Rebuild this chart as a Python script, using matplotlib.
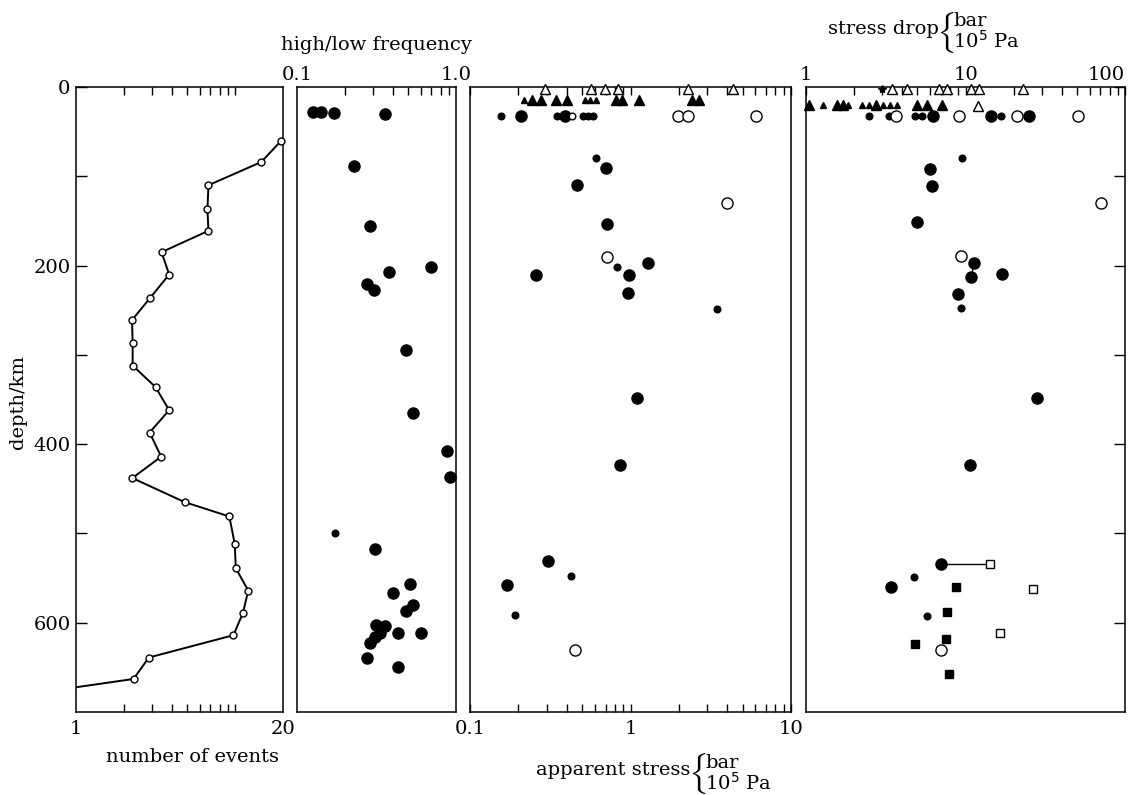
import matplotlib
matplotlib.use("Agg")
import matplotlib.pyplot as plt
from matplotlib.ticker import FixedLocator, NullFormatter, FixedFormatter
import numpy as np

# ---------------- data ----------------
# panel 1: number of events vs depth
events_depth = [61, 84, 110, 137, 161, 185, 210, 236, 261, 287, 312, 336, 362, 387,
                414, 438, 465, 481, 512, 539, 564, 589, 614, 639, 663, 680]
events_count = [19.3, 14.6, 6.8, 6.7, 6.8, 3.45, 3.85, 2.93, 2.25, 2.27, 2.27, 3.16,
                3.85, 2.90, 3.43, 2.26, 4.83, 9.2, 9.95, 10.1, 12.1, 11.2, 9.76, 2.87,
                2.30, 0.5]

# panel 2: high/low frequency ratio
hl_big_val = [0.126, 0.142, 0.171, 0.359, 0.229, 0.289, 0.379, 0.693, 0.276, 0.306,
              0.485, 0.534, 0.882, 0.921, 0.309, 0.516, 0.402, 0.534, 0.487, 0.316,
              0.359, 0.334, 0.311, 0.289, 0.430, 0.603, 0.274, 0.430]
hl_big_depth = [28.5, 28.5, 29, 30, 89, 156, 207.5, 202, 221, 227, 294, 365.5, 408,
                437, 517, 557, 567, 580, 586.5, 602, 603.4, 611.6, 616.5, 623, 611.6,
                611, 639, 650]
hl_small_val = [0.173]
hl_small_depth = [499]

# panel 3: apparent stress (bar)
as_otri_val = [0.293, 0.565, 0.697, 0.840, 2.27, 4.33]
as_otri_depth = [2, 2, 2, 2, 2, 2]
as_tri_big_val = [0.242, 0.276, 0.344, 0.405, 0.809, 0.891, 1.136, 2.405, 2.68]
as_tri_big_depth = [14] * 9
as_tri_small_val = [0.217, 0.521, 0.560, 0.607]
as_tri_small_depth = [14] * 4
as_big_val = [0.207, 0.391, 0.700, 0.462, 0.710, 1.29, 0.259, 0.984, 0.970, 1.104,
              0.86, 0.307, 0.171]
as_big_depth = [33, 33, 90.6, 109.4, 153.9, 196.6, 210.9, 210.9, 230.3, 347.9,
                423, 531, 557.7]
as_small_val = [0.157, 0.350, 0.504, 0.541, 0.587, 0.607, 0.820, 3.47, 0.426, 0.192]
as_small_depth = [33, 33, 33, 33, 33, 79.4, 201.5, 248.7, 547.6, 591.4]
as_open_val = [1.99, 2.27, 6.05, 3.97, 0.717, 0.451]
as_open_depth = [33, 33, 33, 130, 189.9, 630.7]
as_open_small_val = [0.430]
as_open_small_depth = [33]

# panel 4: stress drop (bar)
sd_otri_val = [3.45, 4.32, 6.82, 7.69, 10.8, 12.2, 23.1, 12.0]
sd_otri_depth = [2, 2, 2, 2, 2, 2, 2, 21]
sd_star_val = [3.01]
sd_star_depth = [2]
sd_tri_big_val = [1.04, 1.56, 1.70, 2.75, 4.94, 5.71, 7.09]
sd_tri_big_depth = [20] * 7
sd_tri_small_val = [1.27, 1.84, 2.25, 2.47, 3.05, 3.36, 3.74]
sd_tri_small_depth = [20] * 7
sd_big_val = [6.29, 14.4, 24.9, 5.99, 6.14, 4.99, 11.3, 10.9, 17.0, 9.02, 27.9, 10.7,
              6.99, 3.40]
sd_big_depth = [33, 33, 33, 92.1, 110.5, 151.7, 196.9, 212.7, 209, 231.8, 348.7, 423,
                534, 559.7]
sd_small_val = [2.48, 3.31, 4.82, 5.36, 16.6, 9.46, 9.41, 4.73, 5.77]
sd_small_depth = [33, 33, 33, 33, 33, 79.8, 248, 548.5, 592.9]
sd_open_val = [3.67, 9.10, 20.9, 50.9, 70.4, 9.33, 6.99]
sd_open_depth = [33, 33, 33, 33, 129.6, 189.1, 631.1]
sd_sq_val = [8.68, 7.69, 7.58, 4.80, 7.92]
sd_sq_depth = [560.3, 588, 618, 624, 657.3]
sd_osq_val = [14.2, 26.5, 16.5]
sd_osq_depth = [534, 561.8, 611.6]
sd_link_val = [[6.99, 14.2], [11.3, 10.9]]
sd_link_depth = [[534, 534], [196.9, 212.7]]

depth_major = [0, 200, 400, 600]
depth_minor = [100, 300, 500]

# ---------------- figure ----------------
plt.rcParams['font.family'] = ['DejaVu Serif']
plt.rcParams['font.size'] = 14
plt.rcParams['axes.linewidth'] = 1.1

W, H = 1141, 795
fig = plt.figure(figsize=(W / 100, H / 100), dpi=100)
TOP, BOT = 87, 712


def add_ax(x0, x1):
    return fig.add_axes([x0 / W, 1 - BOT / H, (x1 - x0) / W, (BOT - TOP) / H])


def base(ax, xlim):
    ax.set_xscale('log')
    ax.set_xlim(*xlim)
    ax.set_ylim(700, 0)
    ax.tick_params(which='both', direction='in', width=1.0, color='black',
                   top=False, bottom=False, left=False, right=False,
                   labeltop=False, labelbottom=False, labelleft=False, labelright=False)
    ax.tick_params(which='major', length=7)
    ax.tick_params(which='minor', length=6)
    ax.yaxis.set_major_locator(FixedLocator([]))
    ax.yaxis.set_minor_locator(FixedLocator([]))


BIG = 8.0
SMALL = 4.8

# panel 1
ax1 = add_ax(76, 283)
base(ax1, (1, 20))
ax1.xaxis.set_major_locator(FixedLocator([1, 20]))
ax1.xaxis.set_major_formatter(FixedFormatter(['1', '20']))
ax1.xaxis.set_minor_locator(FixedLocator([2, 3, 4, 5, 6, 7, 8, 9, 10]))
ax1.xaxis.set_minor_formatter(NullFormatter())
ax1.tick_params(axis='x', which='both', top=True, bottom=True, labelbottom=True, pad=6)
ax1.tick_params(axis='x', which='major', length=0)
ax1.yaxis.set_major_locator(FixedLocator(depth_major))
ax1.yaxis.set_minor_locator(FixedLocator(depth_minor))
ax1.yaxis.set_major_formatter(FixedFormatter([str(d) for d in depth_major]))
ax1.tick_params(axis='y', which='both', left=True, labelleft=True, pad=4, length=8)
ax1.plot(events_count, events_depth, '-', color='black', lw=1.4, clip_on=True)
ev_c = np.array(events_count)
ev_d = np.array(events_depth)
keep = ev_c >= 1
ax1.plot(ev_c[keep], ev_d[keep], 'o', ms=5, mfc='white', mec='black', mew=1.0,
         clip_on=False, zorder=3)

# panel 2
ax2 = add_ax(297, 456)
base(ax2, (0.1, 1.0))
ax2.xaxis.set_major_locator(FixedLocator([0.1, 1.0]))
ax2.xaxis.set_major_formatter(FixedFormatter(['0.1', '1.0']))
ax2.xaxis.set_minor_locator(FixedLocator([0.2, 0.3, 0.4, 0.5, 0.6, 0.7, 0.8, 0.9]))
ax2.xaxis.set_minor_formatter(NullFormatter())
ax2.tick_params(axis='x', which='both', top=True, labeltop=True, pad=2)
ax2.tick_params(axis='x', which='major', length=0)
ax2.plot(hl_big_val, hl_big_depth, 'o', ms=BIG, color='black', clip_on=False)
ax2.plot(hl_small_val, hl_small_depth, 'o', ms=SMALL, color='black', clip_on=False)

# panel 3
ax3 = add_ax(470, 791)
base(ax3, (0.1, 10))
ax3.xaxis.set_major_locator(FixedLocator([0.1, 1, 10]))
ax3.xaxis.set_major_formatter(FixedFormatter(['0.1', '1', '10']))
ax3.xaxis.set_minor_locator(FixedLocator([0.2, 0.3, 0.4, 0.5, 0.6, 0.7, 0.8, 0.9,
                                          2, 3, 4, 5, 6, 7, 8, 9]))
ax3.xaxis.set_minor_formatter(NullFormatter())
ax3.tick_params(axis='x', which='both', top=True, bottom=True, labelbottom=True, pad=6)
ax3.tick_params(axis='x', which='major', length=6)
ax3.plot(as_otri_val, as_otri_depth, '^', ms=7, mfc='white', mec='black', mew=1.0,
         clip_on=False, zorder=4)
ax3.plot(as_tri_big_val, as_tri_big_depth, '^', ms=7, color='black', clip_on=False)
ax3.plot(as_tri_small_val, as_tri_small_depth, '^', ms=5, color='black', clip_on=False)
ax3.plot(as_big_val, as_big_depth, 'o', ms=BIG, color='black', clip_on=False)
ax3.plot(as_small_val, as_small_depth, 'o', ms=SMALL, color='black', clip_on=False)
ax3.plot(as_open_val, as_open_depth, 'o', ms=BIG, mfc='white', mec='black', mew=1.0,
         clip_on=False)
ax3.plot(as_open_small_val, as_open_small_depth, 'o', ms=SMALL, mfc='white', mec='black',
         mew=1.0, clip_on=False)

# panel 4
ax4 = add_ax(806, 1125)
base(ax4, (1, 100))
ax4.xaxis.set_major_locator(FixedLocator([1, 10, 100]))
ax4.xaxis.set_major_formatter(FixedFormatter(['1', '10', '100']))
ax4.xaxis.set_minor_locator(FixedLocator([2, 3, 4, 5, 6, 7, 8, 9,
                                          20, 30, 40, 50, 60, 70, 80, 90]))
ax4.xaxis.set_minor_formatter(NullFormatter())
ax4.tick_params(axis='x', which='both', top=True, labeltop=True, pad=2)
ax4.tick_params(axis='x', which='major', length=6)
ax4.yaxis.set_major_locator(FixedLocator(depth_major + depth_minor))
ax4.yaxis.set_major_formatter(NullFormatter())
ax4.tick_params(axis='y', which='major', right=True, length=8)
for lv, ld in zip(sd_link_val, sd_link_depth):
    ax4.plot(lv, ld, '-', color='black', lw=1.0, zorder=1)
ax4.plot(sd_otri_val, sd_otri_depth, '^', ms=7, mfc='white', mec='black', mew=1.0,
         clip_on=False, zorder=4)
ax4.plot(sd_star_val, sd_star_depth, '*', ms=6, color='black', clip_on=False, zorder=4)
ax4.plot(sd_tri_big_val, sd_tri_big_depth, '^', ms=7, color='black', clip_on=False)
ax4.plot(sd_tri_small_val, sd_tri_small_depth, '^', ms=5, color='black', clip_on=False)
ax4.plot(sd_big_val, sd_big_depth, 'o', ms=BIG, color='black', clip_on=False)
ax4.plot(sd_small_val, sd_small_depth, 'o', ms=SMALL, color='black', clip_on=False)
ax4.plot(sd_open_val, sd_open_depth, 'o', ms=BIG, mfc='white', mec='black', mew=1.0,
         clip_on=False, zorder=3)
ax4.plot(sd_sq_val, sd_sq_depth, 's', ms=5.5, color='black', clip_on=False)
ax4.plot(sd_osq_val, sd_osq_depth, 's', ms=5.5, mfc='white', mec='black', mew=1.0,
         clip_on=False, zorder=3)
fig.canvas.draw()
lab4 = ax4.xaxis.get_majorticklabels()
lab4[-1].set_ha('right')

# ---------------- labels ----------------
def fx(px):
    return px / W


def fy(py):
    return 1 - py / H


fig.text(fx(18), fy(402), 'depth/km', rotation=90, ha='center', va='center')
fig.text(fx(192), fy(757), 'number of events', ha='center', va='center')
fig.text(fx(376), fy(45), 'high/low frequency', ha='center', va='center')

# apparent stress label with brace
fig.text(fx(690), fy(770), 'apparent stress', ha='right', va='center')
fig.text(fx(697), fy(774), r'$\{$', ha='center', va='center', fontsize=25,
         math_fontfamily='cm')
fig.text(fx(705), fy(763), 'bar', ha='left', va='center')
fig.text(fx(705), fy(783), r'10$^5$ Pa', ha='left', va='center')

# stress drop label with brace
fig.text(fx(939), fy(29), 'stress drop', ha='right', va='center')
fig.text(fx(945), fy(32), r'$\{$', ha='center', va='center', fontsize=25,
         math_fontfamily='cm')
fig.text(fx(953), fy(21), 'bar', ha='left', va='center')
fig.text(fx(953), fy(41), r'10$^5$ Pa', ha='left', va='center')

fig.savefig('out.png', dpi=100, facecolor='white')
